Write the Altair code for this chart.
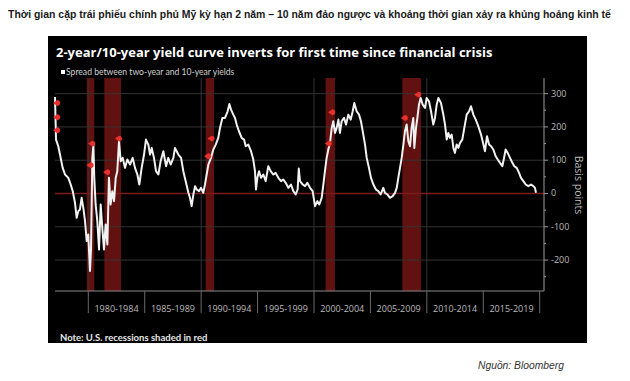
import altair as alt
import pandas as pd

# ---------------- data ----------------
years_a = [1977.05, 1977.14, 1977.34, 1977.49, 1977.73, 1977.94, 1978.23, 1978.44, 1978.62, 1978.82, 1978.97,
           1979.12, 1979.26, 1979.41, 1979.56, 1979.71, 1979.86, 1980.00, 1980.15, 1980.24, 1980.36, 1980.45,
           1980.53, 1980.65, 1980.80, 1980.95, 1981.10, 1981.24, 1981.39, 1981.54, 1981.69, 1981.83, 1981.98,
           1982.13, 1982.28, 1982.43, 1982.57, 1982.72, 1982.87, 1983.05, 1983.25, 1983.46, 1983.70, 1983.93,
           1984.14, 1984.35, 1984.52, 1984.73, 1984.94, 1985.11, 1985.32, 1985.47, 1985.62, 1985.82, 1986.00,
           1986.21, 1986.41, 1986.65, 1986.89, 1987.09, 1987.30, 1987.54]
bp_a = [290, 162, 142, 117, 77, 57, 47, 27, 7, -28, -73,
        -53, -48, -13, -43, -83, -143, -123, -233, -170, 107, 147,
        47, -33, -83, -168, -33, -103, -168, -93, -153, 47, -33,
        7, -23, 47, 67, 157, 97, 107, 77, 102, 87, 107,
        77, 57, 27, 77, 117, 162, 147, 117, 137, 107, 67,
        57, 97, 127, 82, 107, 87, 107]

years_b = [1987.68, 1987.98, 1988.22, 1988.42, 1988.63, 1988.87, 1989.01, 1989.16, 1989.31, 1989.46, 1989.60,
           1989.81, 1989.99, 1990.19, 1990.34, 1990.49, 1990.64, 1990.87, 1991.08, 1991.29, 1991.52, 1991.67,
           1991.88, 1992.11, 1992.35, 1992.50, 1992.65, 1992.85, 1993.00, 1993.15, 1993.35, 1993.59, 1993.80,
           1993.95, 1994.18, 1994.42, 1994.62, 1994.77, 1994.86, 1994.98, 1995.13, 1995.30, 1995.51, 1995.72,
           1995.95, 1996.16, 1996.40, 1996.60, 1996.84, 1997.08, 1997.28, 1997.49, 1997.73, 1997.96, 1998.17,
           1998.38, 1998.55, 1998.65]
bp_b = [137, 117, 107, 67, 37, 2, -13, -38, -3, 22, 12,
        7, 17, 2, 27, 57, 87, 107, 132, 147, 167, 197,
        227, 227, 247, 269, 252, 237, 227, 207, 187, 167, 162,
        142, 147, 127, 102, 67, 12, 47, 67, 47, 57, 37,
        82, 67, 57, 62, 47, 37, 42, 32, 17, 27, 7,
        -3, 12, 75]

years_c = [1998.76, 1999.00, 1999.20, 1999.41, 1999.65, 1999.88, 2000.09, 2000.30, 2000.47, 2000.68, 2000.83,
           2000.97, 2001.12, 2001.27, 2001.42, 2001.57, 2001.71, 2001.86, 2002.01, 2002.16, 2002.30, 2002.45,
           2002.66, 2002.84, 2003.04, 2003.25, 2003.43, 2003.57, 2003.78, 2003.99, 2004.16, 2004.37, 2004.52,
           2004.67, 2004.87, 2005.05, 2005.26, 2005.49, 2005.70, 2005.91, 2006.14, 2006.29, 2006.50, 2006.73,
           2006.97, 2007.18, 2007.33, 2007.47, 2007.62, 2007.77, 2007.92, 2008.06, 2008.21, 2008.36, 2008.51,
           2008.65, 2008.80, 2008.89, 2009.04, 2009.16, 2009.30, 2009.45, 2009.63]
bp_c = [37, 27, 22, 32, 17, 7, -38, -23, -33, -13, 27,
        67, 107, 132, 152, 197, 217, 182, 197, 222, 182, 217,
        227, 207, 237, 222, 247, 272, 247, 237, 217, 177, 147,
        107, 77, 47, 27, 12, 7, -3, 17, 2, -3, -13,
        -8, 2, 17, 47, 77, 107, 147, 187, 207, 157, 142,
        197, 227, 137, 197, 227, 267, 287, 267]

years_d = [2009.84, 2009.98, 2010.19, 2010.37, 2010.57, 2010.72, 2010.87, 2011.02, 2011.25, 2011.46, 2011.61,
           2011.76, 2011.90, 2012.05, 2012.20, 2012.35, 2012.49, 2012.64, 2012.79, 2012.94, 2013.14, 2013.32,
           2013.53, 2013.74, 2013.91, 2014.12, 2014.33, 2014.56, 2014.80, 2015.01, 2015.15, 2015.33, 2015.51,
           2015.69, 2015.89, 2016.10, 2016.28, 2016.48, 2016.69, 2016.84, 2016.98, 2017.16, 2017.37, 2017.58,
           2017.75, 2017.96, 2018.17, 2018.34, 2018.55, 2018.76, 2018.99, 2019.23, 2019.44, 2019.58, 2019.67]
bp_d = [257, 287, 277, 247, 207, 227, 267, 287, 272, 237, 207,
        162, 182, 167, 177, 137, 122, 147, 137, 152, 162, 197,
        237, 247, 262, 237, 222, 202, 177, 147, 127, 172, 147,
        142, 132, 112, 102, 92, 82, 107, 132, 122, 107, 92,
        82, 77, 62, 47, 37, 27, 22, 27, 22, 17, 2]

rec_start = [1979.86, 1981.42, 1990.40, 2001.03, 2007.83]
rec_end = [1980.53, 1982.90, 1991.14, 2001.86, 2009.48]

mark_year = [1977.25, 1977.25, 1977.25, 1980.35, 1980.21, 1982.72, 1981.68, 1990.93, 1990.63, 2001.62, 2001.33, 2008.06, 2009.24]
mark_bp = [272, 229, 190, 150, 85, 165, 64, 165, 112, 244, 150, 227, 297]

y_ticks = [-200, -100, 0, 100, 200, 300]
y_tick_labels = ["-200", "-100", "0", "100", "200", "300"]
y_minor = [-250, -150, -50, 50, 150, 250]
grid_bp = [-200, -100, 100, 200, 300]
grid_year = [1980, 1990, 2000, 2010]
sep_year = [1980, 1985, 1990, 1995, 2000, 2005, 2010, 2015, 2020]
period_mid = [1982.5, 1987.5, 1992.5, 1997.5, 2002.5, 2007.5, 2012.5, 2017.5]
period_lab = ["1980-1984", "1985-1989", "1990-1994", "1995-1999", "2000-2004", "2005-2009", "2010-2014", "2015-2019"]

page_title = "Thời gian cặp trái phiếu chính phủ Mỹ kỳ hạn  2 năm – 10 năm đảo ngược và khoảng thời gian xảy ra khủng hoảng kinh tế"
chart_title = "2-year/10-year yield curve inverts for first time since financial crisis"
legend_txt = "Spread between two-year and 10-year yields"
note_txt = "Note: U.S. recessions shaded in red"
source_txt = "Nguồn: Bloomberg"
y_title = "Basis points"

# ---------------- frames ----------------
line_df = pd.DataFrame({"year": years_a + years_b + years_c + years_d,
                        "bp": bp_a + bp_b + bp_c + bp_d})
rec_df = pd.DataFrame({"start": rec_start, "end": rec_end})
mk_df = pd.DataFrame({"year": mark_year, "bp": mark_bp})
grid_df = pd.DataFrame({"v": grid_bp})
vgrid_df = pd.DataFrame({"year": grid_year})
minor_df = pd.DataFrame({"v": y_minor})
tick_df = pd.DataFrame({"v": y_ticks, "lab": y_tick_labels})
sep_df = pd.DataFrame({"year": sep_year})
lab_df = pd.DataFrame({"year": period_mid, "lab": period_lab})
one = pd.DataFrame({"t": [""]})

W, H = 489, 213
xs = alt.Scale(domain=[1977.05, 2020.38], nice=False, zero=False)
ys = alt.Scale(domain=[-293, 347], nice=False, zero=False)


def txt(s, **kw):
    return alt.Chart(pd.DataFrame({"t": [s]})).mark_text(align="left", baseline="middle", **kw)


bg = alt.Chart(one).mark_rect(color="#000000").encode(
    x=alt.value(-7), x2=alt.value(532), y=alt.value(-42), y2=alt.value(265))

rec = alt.Chart(rec_df).mark_rect(color="#621111").encode(
    x=alt.X("start:Q", scale=xs, axis=None), x2="end:Q", y=alt.value(0), y2=alt.value(H))

hgrid = alt.Chart(grid_df).mark_rule(color="#333333", strokeWidth=1).encode(
    y=alt.Y("v:Q", scale=ys, axis=None), x=alt.value(0), x2=alt.value(W))

vgrid = alt.Chart(vgrid_df).mark_rule(color="#333333", strokeWidth=1).encode(
    x=alt.X("year:Q", scale=xs, axis=None), y=alt.value(0), y2=alt.value(H))

zero_df = pd.DataFrame({"v": [0]})
zero = alt.Chart(zero_df).mark_rule(color="#7e1c1c", strokeWidth=1.5).encode(
    y=alt.Y("v:Q", scale=ys, axis=None), x=alt.value(0), x2=alt.value(W))

line = alt.Chart(line_df).mark_line(color="#f2f2f2", strokeWidth=2, strokeJoin="round").encode(
    x=alt.X("year:Q", scale=xs, axis=None),
    y=alt.Y("bp:Q", scale=ys, axis=None))

marks = alt.Chart(mk_df).mark_point(
    filled=True, color="#e8302c", opacity=1, size=70,
    shape="M -1 0 L 0 -0.7 A 0.7 0.7 0 1 1 0 0.7 Z").encode(
    x=alt.X("year:Q", scale=xs, axis=None), y=alt.Y("bp:Q", scale=ys, axis=None))

ydomain = alt.Chart(one).mark_rule(color="#9a9a9a", strokeWidth=1).encode(
    x=alt.value(W), y=alt.value(0), y2=alt.value(H))

major = alt.Chart(tick_df).mark_rule(color="#9a9a9a", strokeWidth=1).encode(
    y=alt.Y("v:Q", scale=ys, axis=None), x=alt.value(W), x2=alt.value(W + 4))

minor = alt.Chart(minor_df).mark_rule(color="#9a9a9a", strokeWidth=1).encode(
    y=alt.Y("v:Q", scale=ys, axis=None), x=alt.value(W), x2=alt.value(W + 2))

ylabs = alt.Chart(tick_df).mark_text(font="Open Sans", fontSize=9, color="#bbbbbb",
                                     align="left", baseline="middle").encode(
    y=alt.Y("v:Q", scale=ys, axis=None), x=alt.value(W + 7), text="lab:N")

xline = alt.Chart(one).mark_rule(color="#8a8a8a", strokeWidth=1).encode(
    y=alt.value(H), x=alt.value(0), x2=alt.value(W))

seps = alt.Chart(sep_df).mark_rule(color="#6a6a6a", strokeWidth=1).encode(
    x=alt.X("year:Q", scale=xs, axis=None), y=alt.value(H), y2=alt.value(H + 22))

labs = alt.Chart(lab_df).mark_text(font="Open Sans", fontSize=9, color="#bbbbbb",
                                   align="center", baseline="middle").encode(
    x=alt.X("year:Q", scale=xs, axis=None), y=alt.value(H + 18), text="lab:N")

t_page = txt(page_title, font="Liberation Sans", fontSize=10.45, fontWeight="bold", color="#1a1a1a").encode(
    x=alt.value(-47), y=alt.value(-63), text="t:N")
t_chart = txt(chart_title, font="Open Sans", fontSize=13, fontWeight="bold", color="#ffffff").encode(
    x=alt.value(1), y=alt.value(-25), text="t:N")
leg_sq = alt.Chart(one).mark_rect(color="#ffffff").encode(
    x=alt.value(6), x2=alt.value(10), y=alt.value(-8), y2=alt.value(-4))
t_leg = txt(legend_txt, font="Lato", fontSize=8.6, color="#cfcfcf").encode(
    x=alt.value(11), y=alt.value(-6), text="t:N")
t_note = txt(note_txt, font="Lato", fontSize=9.5, fontWeight="bold", color="#e6e6e6").encode(
    x=alt.value(5), y=alt.value(260), text="t:N")
t_src = txt(source_txt, font="Liberation Sans", fontSize=10.3, fontStyle="italic", color="#333333").encode(
    x=alt.value(423), y=alt.value(288), text="t:N")
t_ytitle = alt.Chart(pd.DataFrame({"t": [y_title]})).mark_text(
    font="Open Sans", fontSize=10.5, color="#bbbbbb", angle=90, align="center", baseline="middle").encode(
    x=alt.value(523), y=alt.value(107), text="t:N")

chart = alt.layer(
    bg, rec, hgrid, vgrid, zero, line, marks, ydomain, major, minor, ylabs, xline, seps, labs,
    t_page, t_chart, leg_sq, t_leg, t_note, t_src, t_ytitle
).properties(
    width=W, height=H,
    padding={"left": 47, "top": 70, "right": 78, "bottom": 82},
    autosize=alt.AutoSizeParams(type="none"),
    background="#ffffff",
).configure_view(stroke=None)

chart.save("out.html", embed_options={"renderer": "svg", "actions": False})
